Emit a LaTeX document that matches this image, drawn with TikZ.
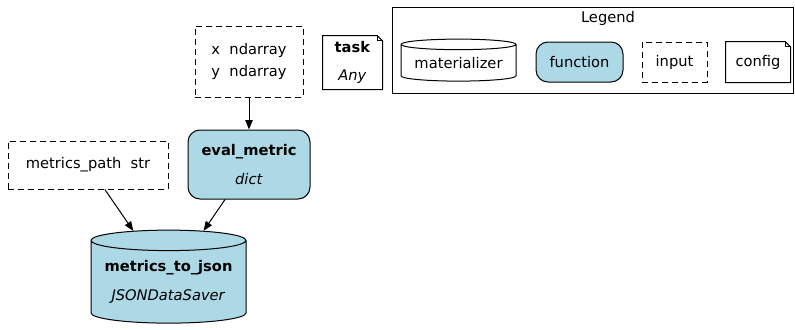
\documentclass[tikz,border=0pt]{standalone}
\usepackage{fontspec}
\setmainfont{DejaVu Sans}
\usetikzlibrary{shapes.geometric}
\usetikzlibrary{arrows.meta}

\definecolor{fnblue}{HTML}{ADD8E6}

\newcommand\notebox[1]{%
  \draw (#1.north west) -- ([xshift=-4pt]#1.north east) -- ([yshift=-4pt]#1.north east)
    -- (#1.south east) -- (#1.south west) -- cycle;
  \draw ([xshift=-4pt]#1.north east) |- ([yshift=-4pt]#1.north east);}

\begin{document}
\begin{tikzpicture}[x=0.75pt,y=-0.75pt,line width=0.75pt,
  font=\fontsize{11}{13.2}\selectfont]
\tikzset{
  inputbox/.style={draw,dash pattern=on 4.5pt off 3pt,inner sep=0pt,align=center},
  funcbox/.style={draw,fill=fnblue,rounded corners=9pt,inner sep=0pt,align=center},
  configbox/.style={inner sep=0pt,align=center},
  matbox/.style={draw,fill=fnblue,shape=cylinder,shape border rotate=90,
    inner sep=0pt,align=center},
  link/.style={-{Triangle[length=7pt,width=5.5pt]}}
}
    % fixe la taille
    \useasboundingbox (0,0) rectangle (795,329);

    % legende
    \node[draw,minimum width=300.75pt,minimum height=64.5pt] (legend) at (592.5,50) {};
    \node (legendtitle) at (608,18) {Legend};
    \node[draw,shape=cylinder,shape border rotate=90,aspect=0.12,inner sep=0pt,
      minimum width=86.25pt,minimum height=31.5pt] (lgmat) at (458.5,63) {materializer};
    \node[funcbox,minimum width=65.25pt,minimum height=30pt] (lgfunc) at (579.5,62) {function};
    \node[inputbox,minimum width=48.75pt,minimum height=30pt] (lginput) at (674.5,62) {input};
    \node[configbox,minimum width=48pt,minimum height=30pt] (lgconfig) at (758,62) {config};
    \notebox{lgconfig}

    % graphe
    \node[inputbox,minimum width=81pt,minimum height=53.25pt] (xyin) at (249,61.5)
      {x\ \ ndarray\\[3pt] y\ \ ndarray};
    \node[configbox,minimum width=44.25pt,minimum height=39.75pt] (task) at (352.5,62.5)
      {\textbf{task}\\[8pt] \textit{Any}};
    \notebox{task}
    \node[inputbox,minimum width=120pt,minimum height=36pt] (pathin) at (88,165)
      {metrics\_path\ \ str};
    \node[funcbox,minimum width=91.5pt,minimum height=51.75pt] (evalmetric) at (249,164.5)
      {\textbf{eval\_metric}\\[8pt] \textit{dict}};
    \node[matbox,aspect=0.16,minimum width=116.25pt,minimum height=69.75pt] (tojson) at (168.5,282)
      {\textbf{metrics\_to\_json}\\[8pt] \textit{JSONDataSaver}};

    \draw[link] (xyin) -- (evalmetric);
    \draw[link] (pathin) -- (tojson);
    \draw[link] (evalmetric) -- (tojson);

\end{tikzpicture}
\end{document}
